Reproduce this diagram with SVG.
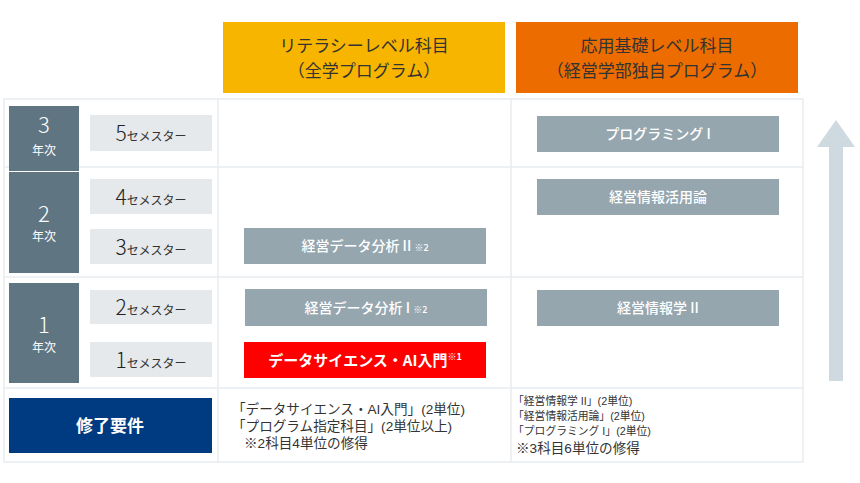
<svg xmlns="http://www.w3.org/2000/svg" width="860" height="483" viewBox="0 0 860 483">
<style>
text{font-family:"Noto Sans CJK JP","Noto Sans",sans-serif}
.hd{font-size:17px;fill:#333;text-anchor:middle}
.grid{fill:none;stroke:#e9edf0;stroke-width:1.5}
.yr{fill:#5f7582}
.yn{font-size:22px;fill:#fff;text-anchor:middle;font-weight:300}
.yk{font-size:12px;fill:#fff;text-anchor:middle}
.sm{fill:#e5e9ec}
.sn{font-size:21px;fill:#222;font-weight:300}
.sk{font-size:12px;fill:#333}
.gb{fill:#96a6af}
.gt{font-size:14px;fill:#fff;text-anchor:middle;font-weight:500}
.sup{font-size:9px}
.req,.req2{font-family:"Liberation Sans","Noto Sans CJK JP",sans-serif;fill:#333}
.req{font-size:13.6px}
.req2{font-size:10.8px}
</style>
<rect width="860" height="483" fill="#fff"/>
<g id="header-literacy">
<rect x="223" y="22" width="282" height="71" fill="#f8b500"/>
<text class="hd" x="364" y="52">リテラシーレベル科目</text>
<text class="hd" x="364" y="77">（全学プログラム）</text>
</g>
<g id="header-applied">
<rect x="516" y="22" width="282" height="71" fill="#ec6c00"/>
<text class="hd" x="657" y="52">応用基礎レベル科目</text>
<text class="hd" x="657" y="77">（経営学部独自プログラム）</text>
</g>
<g id="table-grid">
<rect class="grid" x="4" y="99" width="799" height="363"/>
<line class="grid" x1="4" y1="167" x2="803" y2="167"/>
<line class="grid" x1="4" y1="277" x2="803" y2="277"/>
<line class="grid" x1="4" y1="388" x2="803" y2="388"/>
<line class="grid" x1="218" y1="99" x2="218" y2="462"/>
<line class="grid" x1="511" y1="99" x2="511" y2="462"/>
</g>
<g id="year3">
<rect class="yr" x="9" y="106" width="70" height="65"/>
<text class="yn" x="44" y="133">3</text>
<text class="yk" x="44" y="155">年次</text>
</g>
<g id="year2">
<rect class="yr" x="9" y="172" width="70" height="101"/>
<text class="yn" x="44" y="222">2</text>
<text class="yk" x="44" y="241">年次</text>
</g>
<g id="year1">
<rect class="yr" x="9" y="283" width="70" height="100"/>
<text class="yn" x="44" y="333">1</text>
<text class="yk" x="44" y="352">年次</text>
</g>
<g id="sem5">
<rect class="sm" x="90" y="115" width="122" height="36"/>
<text x="151" y="141" text-anchor="middle"><tspan class="sn">5</tspan><tspan class="sk">セメスター</tspan></text>
</g>
<g id="sem4">
<rect class="sm" x="90" y="179" width="122" height="35"/>
<text x="151" y="205" text-anchor="middle"><tspan class="sn">4</tspan><tspan class="sk">セメスター</tspan></text>
</g>
<g id="sem3">
<rect class="sm" x="90" y="229" width="122" height="35"/>
<text x="151" y="255" text-anchor="middle"><tspan class="sn">3</tspan><tspan class="sk">セメスター</tspan></text>
</g>
<g id="sem2">
<rect class="sm" x="90" y="290" width="122" height="34"/>
<text x="151" y="315" text-anchor="middle"><tspan class="sn">2</tspan><tspan class="sk">セメスター</tspan></text>
</g>
<g id="sem1">
<rect class="sm" x="90" y="342" width="122" height="35"/>
<text x="151" y="368" text-anchor="middle"><tspan class="sn">1</tspan><tspan class="sk">セメスター</tspan></text>
</g>
<g id="requirement">
<rect x="9" y="398" width="203" height="55" fill="#003a80"/>
<text x="110" y="432" text-anchor="middle" font-size="17" font-weight="bold" fill="#fff">修了要件</text>
</g>
<g id="data-analysis-2">
<rect class="gb" x="244" y="228" width="242" height="36"/>
<text class="gt" x="365" y="251">経営データ分析 II <tspan class="sup">※2</tspan></text>
</g>
<g id="data-analysis-1">
<rect class="gb" x="245" y="289" width="242" height="37"/>
<text class="gt" x="366" y="313">経営データ分析 I <tspan class="sup">※2</tspan></text>
</g>
<g id="ds-ai-intro">
<rect x="244" y="342" width="242" height="36" fill="#ff0000"/>
<text x="365" y="366" text-anchor="middle" font-size="15" font-weight="bold" fill="#fff">データサイエンス・AI入門<tspan font-size="9" dy="-6">※1</tspan></text>
</g>
<g id="programming-1">
<rect class="gb" x="537" y="116" width="242" height="36"/>
<text class="gt" x="658" y="139">プログラミング I</text>
</g>
<g id="info-utilization">
<rect class="gb" x="537" y="179" width="242" height="36"/>
<text class="gt" x="658" y="202">経営情報活用論</text>
</g>
<g id="info-2">
<rect class="gb" x="537" y="290" width="242" height="36"/>
<text class="gt" x="658" y="313">経営情報学 II</text>
</g>
<g id="req-literacy">
<text class="req"><tspan x="232" y="414">「データサイエンス・AI入門」(2単位)</tspan><tspan x="232" y="431">「プログラム指定科目」(2単位以上)</tspan><tspan x="244" y="448">※2科目4単位の修得</tspan></text>
</g>
<g id="req-applied">
<text class="req2"><tspan x="513" y="405">「経営情報学 II」(2単位)</tspan><tspan x="513" y="420">「経営情報活用論」(2単位)</tspan><tspan x="513" y="435">「プログラミング I」(2単位)</tspan><tspan x="516" y="453" font-size="13.6">※3科目6単位の修得</tspan></text>
</g>
<g id="connectors">
<path d="M829 381 V147 H817 L836 120 L855 147 H843 V381 Z" fill="#cfd9e0"/>
</g>
</svg>
